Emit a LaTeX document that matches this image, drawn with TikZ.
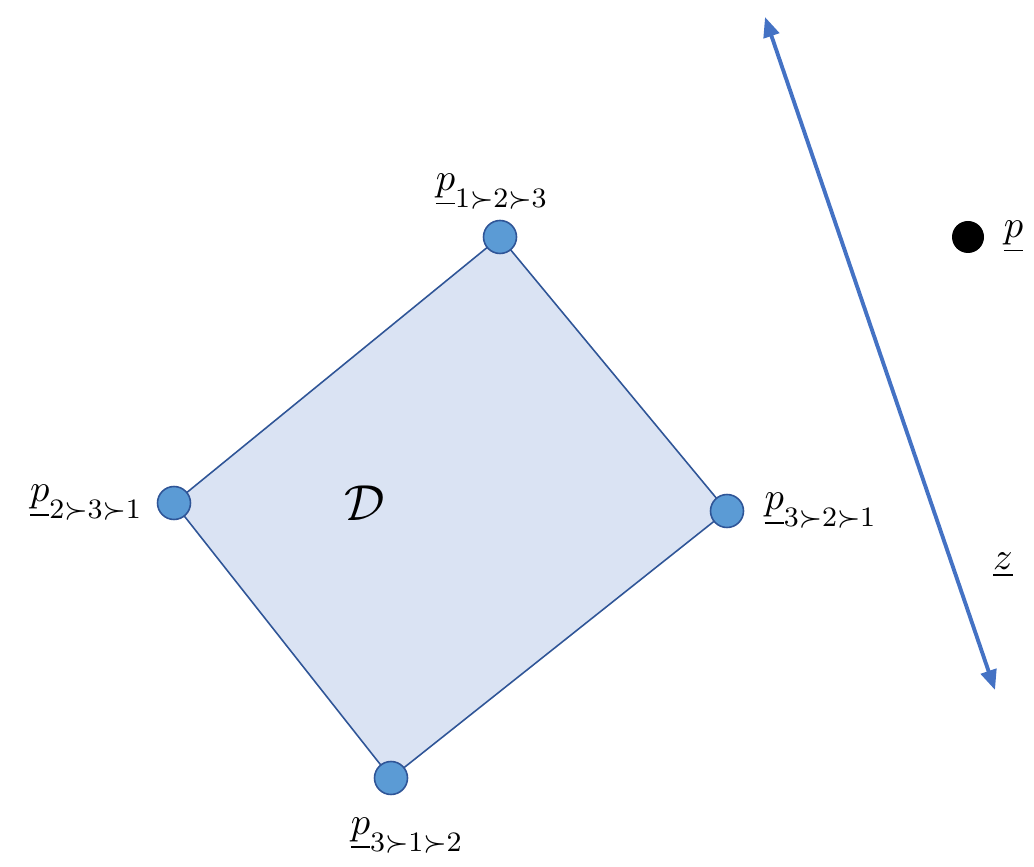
\documentclass[tikz,border=0pt]{standalone}
\usepackage{amsmath,amssymb}
\usetikzlibrary{positioning,arrows.meta}
\definecolor{polyfill}{HTML}{DAE3F3}
\definecolor{polyline}{HTML}{2F5597}
\definecolor{vertfill}{HTML}{5B9BD5}
\definecolor{axisblue}{HTML}{4472C4}
\begin{document}
\begin{tikzpicture}[
  vert/.style={circle,draw=polyline,fill=vertfill,line width=0.45pt,minimum size=0.33cm,inner sep=0pt},
  lbl/.style={inner sep=1pt,font=\fontsize{11}{13}\selectfont},
  dot/.style={circle,fill=black,minimum size=0.32cm,inner sep=0pt}]
\useasboundingbox (0,0) rectangle (10.34,8.66);

\coordinate (c1) at (5.00,6.29);
\coordinate (c2) at (7.27,3.55);
\coordinate (c3) at (3.91,0.88);
\coordinate (c4) at (1.74,3.63);

\draw[draw=polyline,fill=polyfill,line width=0.45pt] (c1) -- (c2) -- (c3) -- (c4) -- cycle;

\node[vert] (v123) at (c1) {};
\node[vert] (v321) at (c2) {};
\node[vert] (v312) at (c3) {};
\node[vert] (v231) at (c4) {};

\node[lbl,above=0.06cm of v123,xshift=-0.08cm] (l123) {$\underline{p}_{1\succ2\succ3}$};
\node[lbl,right=0.16cm of v321] (l321) {$\underline{p}_{3\succ2\succ1}$};
\node[lbl,below=0.18cm of v312,xshift=0.16cm] (l312) {$\underline{p}_{3\succ1\succ2}$};
\node[lbl,left=0.1cm of v231] (l231) {$\underline{p}_{2\succ3\succ1}$};

\node (dom) at (3.65,3.63) {\Large$\mathcal{D}$};

\coordinate (ztop) at (7.65,8.49);
\coordinate (zbot) at (9.95,1.76);
\draw[axisblue,line width=1.1pt,{Triangle[length=0.2cm,width=0.16cm]}-{Triangle[length=0.2cm,width=0.16cm]}] (ztop) -- (zbot);
\node[lbl] (zl) at (10.03,3.01) {$\underline{z}$};

\node[dot] (pt) at (9.68,6.29) {};
\node[lbl,right=0.15cm of pt] (pl) {$\underline{p}$};
\end{tikzpicture}
\end{document}
